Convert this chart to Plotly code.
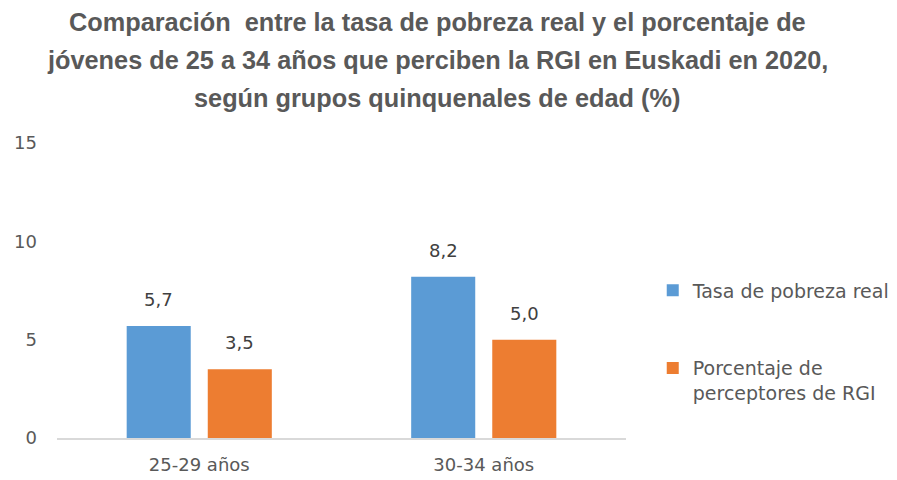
import plotly.graph_objects as go

categories = ["25-29 años", "30-34 años"]
series_names = ["Tasa de pobreza real", "Porcentaje de<br>perceptores de RGI"]
pobreza = [5.7, 8.2]
rgi = [3.5, 5.0]
y_ticks = [0, 5, 10, 15]
title_lines = [
    "Comparación  entre la tasa de pobreza real y el porcentaje de",
    "jóvenes de 25 a 34 años que perciben la RGI en Euskadi en 2020,",
    "según grupos quinquenales de edad (%)",
]

colors = ["#5B9BD5", "#ED7D31"]
text_color = "#595959"
font_fam = "DejaVu Sans"

fig = go.Figure()
for name, vals, col in zip(series_names, [pobreza, rgi], colors):
    fig.add_trace(go.Bar(
        x=categories, y=vals, name=name, marker=dict(color=col, line=dict(width=0)),
        legendgroup=name,
    ))

# data labels
offsets = [-40.5, 40.5]
for vals, off in zip([pobreza, rgi], offsets):
    for c, v in zip(categories, vals):
        fig.add_annotation(x=c, y=v, xref="x", yref="y", text=f"{v:.1f}".replace(".", ","),
                           showarrow=False, yanchor="bottom", xshift=off, yshift=14,
                           font=dict(family=font_fam, size=18, color="#404040"))

# title lines
title_y = [1.41, 1.281, 1.153]
for t, ty in zip(title_lines, title_y):
    fig.add_annotation(x=0.668, y=ty, xref="paper", yref="paper", text=f"<b>{t}</b>",
                       showarrow=False, xanchor="center", yanchor="middle",
                       font=dict(family="Liberation Sans, Arial, sans-serif", size=25.3, color=text_color))

fig.update_layout(
    width=889, height=472,
    margin=dict(l=49, r=271, t=135, b=42, autoexpand=False),
    paper_bgcolor="white", plot_bgcolor="white",
    barmode="group", bargap=0.43, bargroupgap=0.21,
    separators=",.",
    showlegend=True,
    legend=dict(x=1.047, y=0.565, xanchor="left", yanchor="top",
                font=dict(family=font_fam, size=19, color=text_color),
                traceorder="grouped", tracegroupgap=50, valign="top",
                bgcolor="rgba(0,0,0,0)"),
    xaxis=dict(showline=True, linecolor="#D9D9D9", linewidth=1.5, ticks="", automargin=False,
               ticklabelstandoff=10,
               tickfont=dict(family=font_fam, size=18, color=text_color), showgrid=False),
    yaxis=dict(range=[0, 15], tickvals=y_ticks, showgrid=False, zeroline=False, showline=False,
               ticks="", ticklabelstandoff=19, automargin=False,
               tickfont=dict(family=font_fam, size=18, color=text_color)),
)

fig.write_html("out.html")
